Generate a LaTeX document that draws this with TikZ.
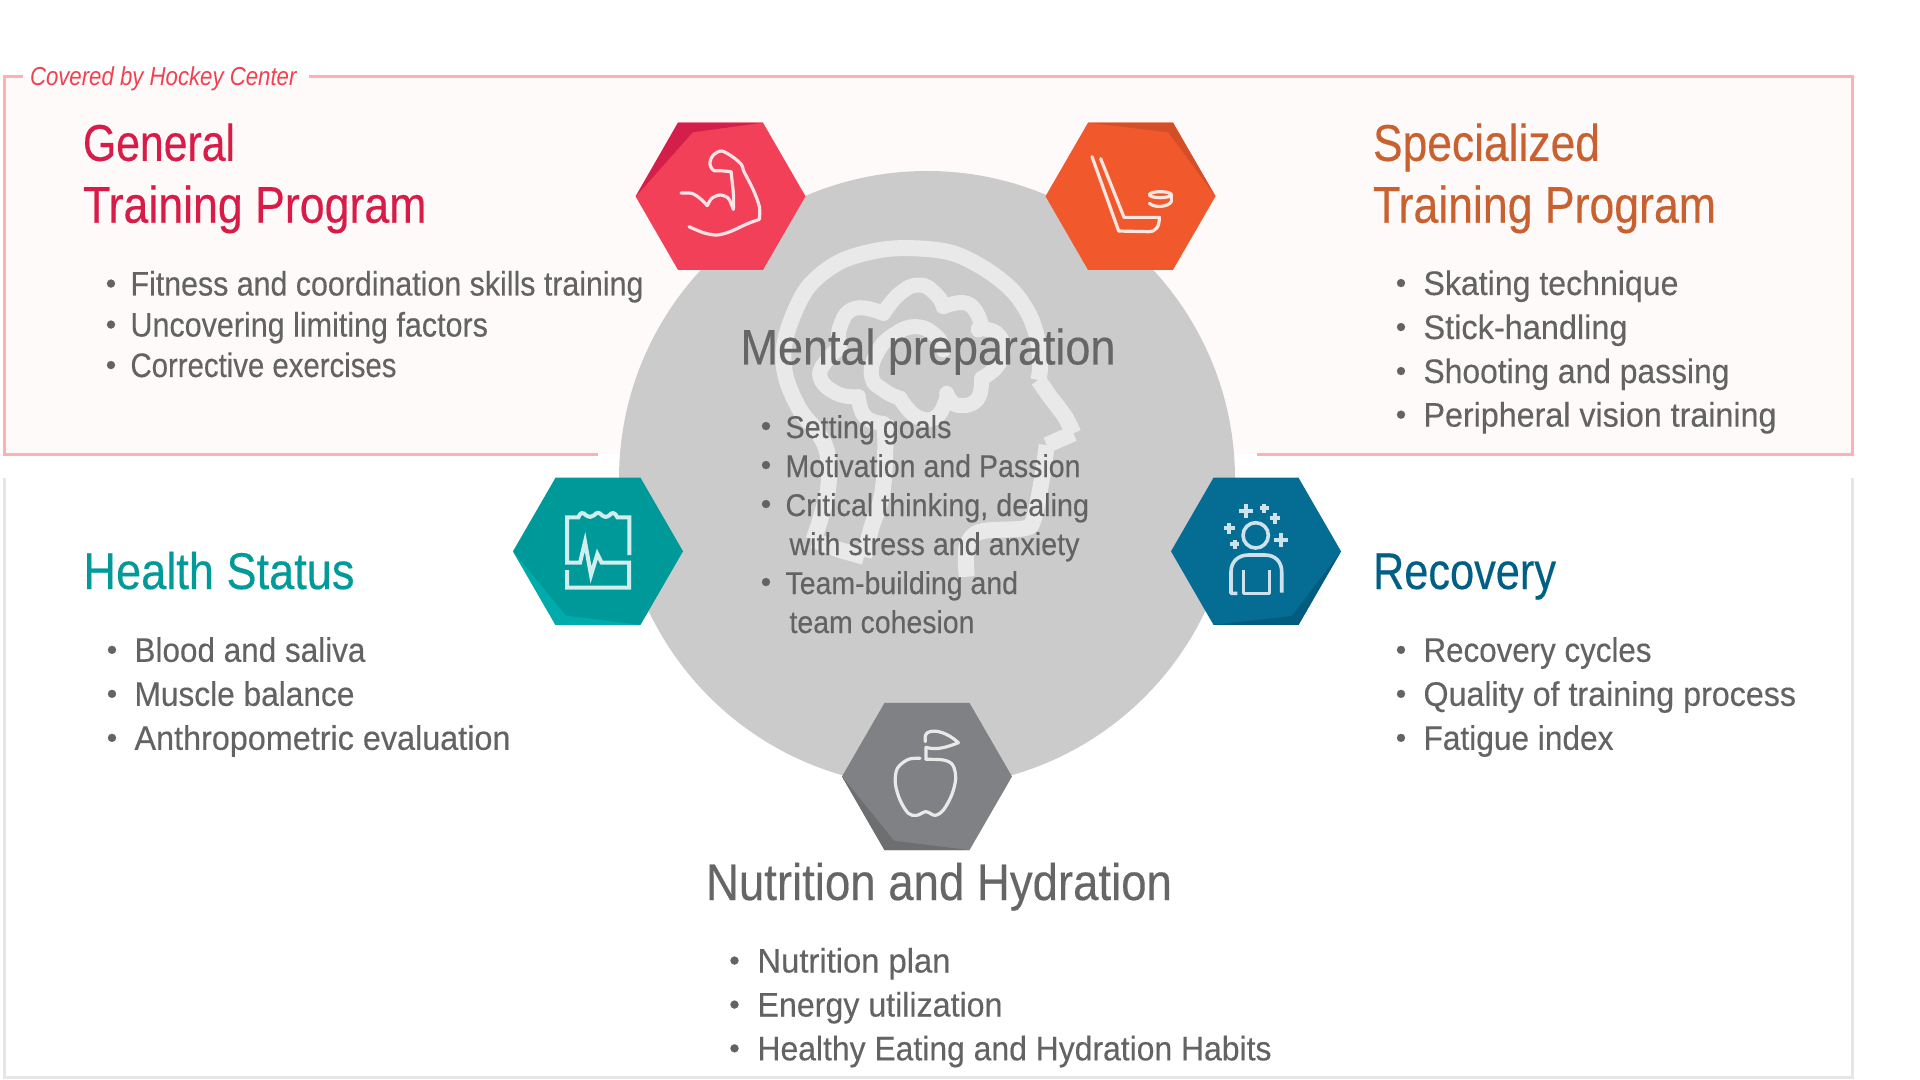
\documentclass[tikz,border=0pt]{standalone}
\usepackage{fontspec}
\usepackage{graphicx}
\setmainfont{Liberation Sans}[FakeBold=0.3]
\newfontfamily\notefont{Liberation Sans}[ItalicFont={Liberation Sans Italic}]
\definecolor{framepink}{HTML}{FFB0B2}
\definecolor{framefill}{HTML}{FFFAFA}
\definecolor{framegrey}{HTML}{E6E6E6}
\definecolor{discgrey}{HTML}{CBCBCB}
\definecolor{headline}{HTML}{E9E9E9}
\definecolor{bodygrey}{HTML}{636363}
\definecolor{headgrey}{HTML}{666666}
\definecolor{tred}{HTML}{D81B47}
\definecolor{torange}{HTML}{C8602F}
\definecolor{tteal}{HTML}{009A9A}
\definecolor{tblue}{HTML}{005F85}
\definecolor{notered}{HTML}{F2404F}
\definecolor{hred}{HTML}{F24059}
\definecolor{hredd}{HTML}{D41F4A}
\definecolor{horange}{HTML}{F1582B}
\definecolor{horanged}{HTML}{D44F27}
\definecolor{hteal}{HTML}{009999}
\definecolor{htealb}{HTML}{00ABAB}
\definecolor{hblue}{HTML}{056D94}
\definecolor{hblued}{HTML}{005D80}
\definecolor{hgrey}{HTML}{808184}
\definecolor{hgreyd}{HTML}{6D6E70}
\newdimen\pxu \pxu=0.5pt
\tikzset{
  txbase/.style={inner sep=0pt,outer sep=0pt,anchor=base west},
  txbody/.style={txbase,text=bodygrey,font=\fontsize{17}{20}\selectfont},
  txmid/.style={txbase,text=bodygrey,font=\fontsize{15.7}{19}\selectfont},
  txbig/.style={txbase,font=\fontsize{25.8}{30}\selectfont},
  txnote/.style={txbase,text=notered,font=\fontsize{13}{16}\selectfont\notefont\itshape},
  txbul/.style={inner sep=0pt,outer sep=0pt,anchor=base,text=bodygrey,font=\fontsize{15}{17}\selectfont},
  iconline/.style={line cap=round,line join=round,fill=none},
  headband/.style={draw=headline,line width=8pt,line join=round,fill=none},
  brainband/.style={draw=headline,line width=7.5pt,line join=round,line cap=round,fill=none},
  lobe/.style={smooth,tension=.8},
}
\newcommand{\lbl}[6]{\node[#2] (#1) at (#3,#4) {\resizebox{#5\pxu}{\height}{#6}};}
\newcommand{\bul}[3]{\node[txbul] (#1) at (#2,#3-2) {•};}
\newcommand{\hexa}[3]{\fill[#3] ({#1-85},#2) -- ({#1-42.5},{#2-73.6}) -- ({#1+42.5},{#2-73.6}) -- ({#1+85},#2) -- ({#1+42.5},{#2+73.6}) -- ({#1-42.5},{#2+73.6}) -- cycle;}
\begin{document}
\begin{tikzpicture}[x=0.5pt,y=-0.5pt]
\useasboundingbox (0,0) rectangle (1920,1080);
\fill[white] (0,0) rectangle (1920,1080);
% frames
\fill[framefill] (4,77) rectangle (1852,454);
\draw[framepink,line width=1.5pt] (23,77) -- (4,77) -- (4,454) -- (598,454);
\draw[framepink,line width=1.5pt] (309,77) -- (1852,77) -- (1852,454) -- (1257,454);
\draw[framegrey,line width=1.5pt] (4,478) -- (4,1077.5) -- (1852,1077.5) -- (1852,478);
% disc
\fill[discgrey] (927,479) circle [radius=308];
% head
\begin{scope}[shift={(740,220)},x=0.1667pt,y=-0.1667pt]
\draw[headband] plot[smooth,tension=.55] coordinates {(435,600)(435,720)(425,830)(395,920)(372,1010)};
\draw[headband] (372,1010) -- (300,990) -- (220,960);
\draw[headband] plot[smooth,tension=.55] coordinates {(220,960)(240,900)(265,800)(262,700)(235,640)(180,570)(140,480)(130,400)(150,310)(205,200)(300,125)(420,90)(530,85)(640,100)(740,150)(820,215)(870,290)(895,370)(900,440)(895,480)};
\draw[headband] plot[smooth,tension=.5] coordinates {(895,480)(930,530)(975,590)(1000,640)};
\draw[headband] (1000,640) -- (920,675);
\draw[headband] plot[smooth,tension=.55] coordinates {(920,675)(905,780)(880,900)(850,925)(720,935)(680,980)(680,1070)};
\begin{scope}[brainband]
\draw plot[lobe] coordinates {(430,610)(375,590)(355,530)};
\draw plot[lobe] coordinates {(355,530)(290,520)(240,470)(265,415)(300,385)};
\draw plot[lobe] coordinates {(300,385)(300,320)(345,265)(430,280)};
\draw plot[lobe] coordinates {(430,280)(480,220)(540,195)(590,225)(610,260)};
\draw plot[lobe] coordinates {(610,260)(680,250)(720,300)(715,330)};
\draw plot[lobe] coordinates {(715,325)(770,340)(790,390)(770,440)(725,475)};
\draw plot[lobe] coordinates {(725,475)(710,540)(650,555)(620,520)};
\draw plot[lobe] coordinates {(622,525)(590,590)(530,590)(480,535)};
\draw plot[lobe] coordinates {(480,535)(430,510)(395,470)(410,400)(460,345)(530,320)(590,350)(610,390)};
\end{scope}
\end{scope}
% hexagons
\hexa{720.5}{196.3}{hred}
\fill[hredd] (636,196.3) -- (678,122.7) -- (763,122.7) -- (692.7,132.3) -- cycle;
\hexa{1130.5}{196.3}{horange}
\fill[horanged] (1088,122.7) -- (1173,122.7) -- (1215.5,196.3) -- (1168.3,132.3) -- cycle;
\hexa{598}{551.3}{hteal}
\fill[htealb] (513,551.3) -- (555.5,624.9) -- (640.5,624.9) -- (566,615.7) -- cycle;
\hexa{1256}{551.3}{hblue}
\fill[hblued] (1341,551.3) -- (1298.5,624.9) -- (1213.5,624.9) -- (1291.7,616) -- cycle;
\hexa{927}{776.5}{hgrey}
\fill[hgreyd] (842,776.5) -- (884.5,850.1) -- (969.5,850.1) -- (894,840.7) -- cycle;
% muscle icon
\begin{scope}[shift={(620,100)},x=0.1667pt,y=-0.1667pt,iconline,draw=white!85!hred,line width=1.6pt]
\draw plot[smooth,tension=.5] coordinates {(183,279)(215,280)(240,295)(262,317)};
\draw plot[smooth,tension=.5] coordinates {(262,317)(275,295)(300,285)(325,295)(340,328)};
\draw plot[smooth,tension=.4] coordinates {(340,328)(340,280)(333,215)};
\draw plot[smooth,tension=.5] coordinates {(333,215)(300,212)(282,212)(272,200)(270,185)(280,165)(305,153)(340,172)(365,195)(372,215)(400,270)(418,320)(418,358)};
\draw plot[smooth,tension=.5] coordinates {(418,358)(380,372)(330,395)(290,405)(250,398)(207,380)};
\end{scope}
% hockey stick icon
\begin{scope}[shift={(1030,100)},x=0.1667pt,y=-0.1667pt,iconline,draw=white!85!horange,line width=1.6pt]
\draw (186,170) -- (266,393) -- (355,395) .. controls (378,395) and (388,380) .. (388,352) -- (282,352) -- (212,176);
\draw (391,284) ellipse [x radius=33,y radius=9];
\draw (424,284) -- (424,304) .. controls (415,322) and (372,324) .. (358,310);
\end{scope}
% health icon
\begin{scope}[shift={(500,460)},x=0.1667pt,y=-0.1667pt,iconline,draw=white!82!hteal,line width=2pt]
\draw[line cap=butt,line join=miter] (388,285) -- (388,172) -- (352,172)
  .. controls (345,156) and (335,156) .. (328,166) .. controls (320,172) and (314,172) .. (306,166)
  .. controls (298,156) and (290,156) .. (282,166) .. controls (274,172) and (268,172) .. (258,166)
  .. controls (250,156) and (240,156) .. (235,172) -- (201,172) -- (201,308) -- (240,308)
  -- (255,245) -- (273,345) -- (292,282) -- (305,308) -- (387,308) -- (387,383) -- (201,383) -- (201,330);
\end{scope}
% recovery icon
\begin{scope}[shift={(1150,460)},x=0.1667pt,y=-0.1667pt,iconline,draw=white!80!hblue,line width=1.8pt]
\draw (317,226) circle [radius=38];
\draw[line cap=butt] (262,400) -- (243,400) -- (243,335) .. controls (243,305) and (265,285) .. (295,285) -- (345,285) .. controls (375,285) and (395,305) .. (395,335) -- (395,398);
\draw[line cap=butt] (280,330) -- (280,400) -- (358,400) -- (358,330);
\foreach \cx/\cy/\arm in {287/152/21,343/145/13,375/175/16,238/205/16,254/253/13,392/241/21}{
  \draw[line cap=butt,line width=2.1pt] (\cx-\arm,\cy) -- (\cx+\arm,\cy);
  \draw[line cap=butt,line width=2.1pt] (\cx,\cy-\arm) -- (\cx,\cy+\arm);
}
\end{scope}
% apple icon
\begin{scope}[shift={(820,690)},x=0.1667pt,y=-0.1667pt,iconline,draw=headline,line width=1.6pt]
\draw plot[smooth,tension=.55] coordinates {(300,205)(265,208)(232,235)(226,280)(240,330)(265,370)(290,376)(318,365)(345,376)(370,360)(395,315)(407,265)(398,225)(370,210)(318,208)};
\draw (318,208) -- (318,172) .. controls (350,182) and (385,170) .. (415,158) .. controls (385,130) and (345,115) .. (322,128) .. controls (314,135) and (314,145) .. (316,155);
\end{scope}
% texts
\lbl{note}{txnote}{30}{85.5}{266.5}{Covered by Hockey Center}
\lbl{ga}{txbig,text=tred}{83}{160.8}{152}{General}
\lbl{gb}{txbig,text=tred}{83}{222.7}{343.5}{Training Program}
\bul{gba}{111}{295.5}\lbl{g1}{txbody}{130.5}{295.5}{513}{Fitness and coordination skills training}
\bul{gbb}{111}{336.5}\lbl{g2}{txbody}{130.5}{336.5}{357.5}{Uncovering limiting factors}
\bul{gbc}{111}{377}\lbl{g3}{txbody}{130.5}{377}{266}{Corrective exercises}
\lbl{sa}{txbig,text=torange}{1373}{160.8}{227}{Specialized}
\lbl{sb}{txbig,text=torange}{1373}{222.7}{343}{Training Program}
\bul{sba}{1401}{295}\lbl{s1}{txbody}{1423.5}{295}{255}{Skating technique}
\bul{sbb}{1401}{339}\lbl{s2}{txbody}{1423.5}{339}{204}{Stick-handling}
\bul{sbc}{1401}{383}\lbl{s3}{txbody}{1423.5}{383}{306}{Shooting and passing}
\bul{sbd}{1401}{426.6}\lbl{s4}{txbody}{1423.5}{426.6}{353}{Peripheral vision training}
\lbl{ha}{txbig,text=tteal}{83.5}{589}{271}{Health Status}
\bul{hba}{112}{661.8}\lbl{h1}{txbody}{134.5}{661.8}{231}{Blood and saliva}
\bul{hbb}{112}{705.8}\lbl{h2}{txbody}{134.5}{705.8}{220}{Muscle balance}
\bul{hbc}{112}{749.8}\lbl{h3}{txbody}{134.5}{749.8}{376}{Anthropometric evaluation}
\lbl{ra}{txbig,text=tblue}{1373}{589}{183}{Recovery}
\bul{rba}{1401}{661.8}\lbl{r1}{txbody}{1423.5}{661.8}{228}{Recovery cycles}
\bul{rbb}{1401}{705.8}\lbl{r2}{txbody}{1423.5}{705.8}{372.5}{Quality of training process}
\bul{rbc}{1401}{749.8}\lbl{r3}{txbody}{1423.5}{749.8}{190}{Fatigue index}
\lbl{na}{txbig,text=headgrey}{706}{900}{466}{Nutrition and Hydration}
\bul{nba}{734.5}{972.5}\lbl{n1}{txbody}{757.5}{972.5}{193}{Nutrition plan}
\bul{nbb}{734.5}{1016.5}\lbl{n2}{txbody}{757.5}{1016.5}{245}{Energy utilization}
\bul{nbc}{734.5}{1060.3}\lbl{n3}{txbody}{757.5}{1060.3}{514}{Healthy Eating and Hydration Habits}
\lbl{ma}{txbig,text=headgrey,font=\fontsize{25}{30}\selectfont}{740.5}{364.5}{375}{Mental preparation}
\bul{mba}{766}{438}\lbl{m1}{txmid}{785.5}{438}{166}{Setting goals}
\bul{mbb}{766}{477}\lbl{m2}{txmid}{785.5}{477}{295}{Motivation and Passion}
\bul{mbc}{766}{516}\lbl{m3}{txmid}{785.5}{516}{303.5}{Critical thinking, dealing}
\lbl{m3b}{txmid}{789.5}{555}{290}{with stress and anxiety}
\bul{mbd}{766}{594}\lbl{m4}{txmid}{785.5}{594}{232.5}{Team-building and}
\lbl{m4b}{txmid}{789.5}{633}{185}{team cohesion}
\end{tikzpicture}
\end{document}
